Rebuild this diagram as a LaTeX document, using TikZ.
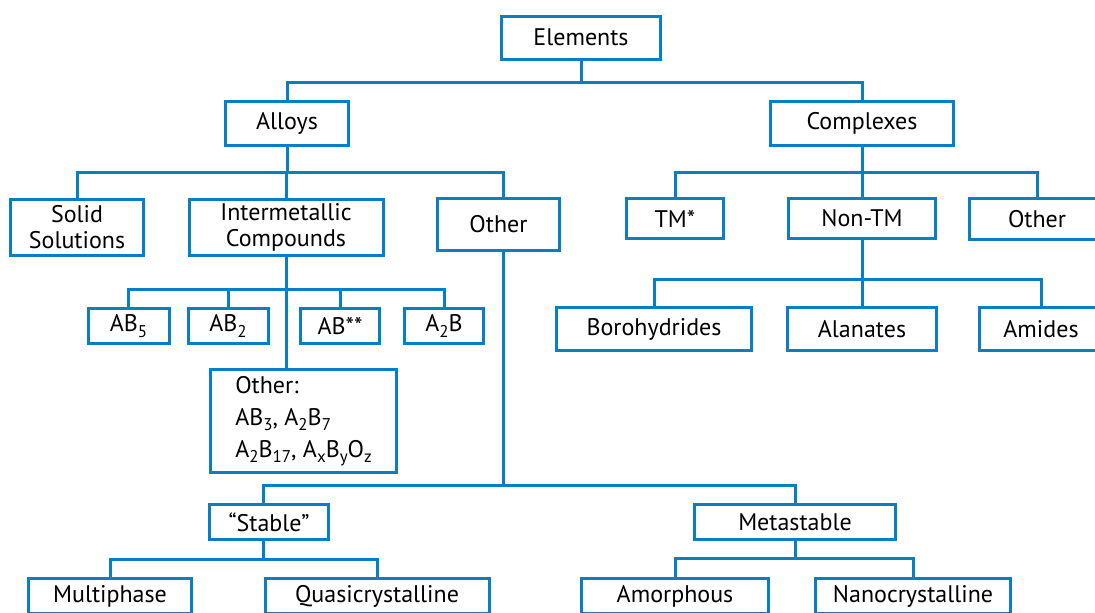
\documentclass[tikz,border=0pt]{standalone}
\usepackage{fontspec}
\setmainfont{PT Sans}
\usepackage{tikz}
\usetikzlibrary{positioning}
\definecolor{treeblue}{RGB}{8,126,196}
\newcommand{\sbs}[1]{\raisebox{-0.45ex}{\fontsize{8.5}{8.5}\selectfont #1}}

\begin{document}
\begin{tikzpicture}[x=0.5pt, y=-0.5pt, font=\fontsize{12}{13}\selectfont,
  bx/.style={draw=treeblue, line width=1.5pt, fill=white, align=center, inner sep=0pt},
  ln/.style={draw=treeblue, line width=1.5pt}]
\clip (0,0) rectangle (1095,612);
% top levels
\node[bx, minimum width=79.5pt, minimum height=21.5pt] (elem) at (581,37.5) {Elements};
\node[bx, minimum width=61.5pt, minimum height=22pt] (alloy) at (287,123) {Alloys};
\node[bx, minimum width=91.5pt, minimum height=22pt] (cplx) at (862,123) {Complexes};
% alloys
\node[bx, minimum width=66.5pt, minimum height=28pt] (solid) at (77,227) {Solid\\Solutions};
\node[bx, minimum width=97pt, minimum height=28pt] (inter) at (286,227) {Intermetallic\\Compounds};
\node[bx, minimum width=61pt, minimum height=26pt] (othA) at (498.5,224.5) {Other};
\node[bx, minimum width=40.5pt, minimum height=17.5pt] (ab5) at (128.5,326) {AB\sbs{5}};
\node[bx, minimum width=40pt, minimum height=17.5pt] (ab2) at (228,326) {AB\sbs{2}};
\node[bx, minimum width=39.5pt, minimum height=17.5pt] (abss) at (340,326) {AB**};
\node[bx, minimum width=39.5pt, minimum height=17.5pt] (a2b) at (444,326) {A\sbs{2}B};
\node[bx, minimum width=93pt, minimum height=51.5pt, align=left,
      font=\fontsize{12}{16}\selectfont] (othI) at (303.5,421)
  {Other:\\AB\sbs{3}, A\sbs{2}B\sbs{7}\\A\sbs{2}B\sbs{17}, A\sbs{x}B\sbs{y}O\sbs{z}};
% complexes
\node[bx, minimum width=48.5pt, minimum height=20pt] (tm) at (675,218.5) {TM*};
\node[bx, minimum width=73.5pt, minimum height=20pt] (nontm) at (862,218.5) {Non-TM};
\node[bx, minimum width=67.5pt, minimum height=20.5pt] (othC) at (1037,219) {Other};
\node[bx, minimum width=97.5pt, minimum height=21.5pt] (boro) at (654,329) {Borohydrides};
\node[bx, minimum width=74.5pt, minimum height=21.5pt] (alan) at (862,329) {Alanates};
\node[bx, minimum width=61.5pt, minimum height=21.5pt] (amid) at (1041,329) {Amides};
% other alloys
\node[bx, minimum width=59.5pt, minimum height=17.5pt] (stab) at (269,522) {“Stable”};
\node[bx, minimum width=100.5pt, minimum height=17.5pt] (meta) at (795,522) {Metastable};
\node[bx, minimum width=81.5pt, minimum height=17.5pt] (multi) at (110,596) {Multiphase};
\node[bx, minimum width=112pt, minimum height=17.5pt] (quasi) at (377,596) {Quasicrystalline};
\node[bx, minimum width=93.5pt, minimum height=17.5pt] (amor) at (675,596) {Amorphous};
\node[bx, minimum width=97.5pt, minimum height=17.5pt] (nano) at (913,596) {Nanocrystalline};
% connectors
\draw[ln] (elem.south) -- ++(0,21.5) -| (alloy.north);
\draw[ln] (elem.south) -- ++(0,21.5) -| (cplx.north);
\draw[ln] (alloy.south) -- ++(0,25.5) -| (solid.north);
\draw[ln] (alloy.south) -- ++(0,25.5) -| (inter.north);
\draw[ln] (alloy.south) -- ++(0,25.5) -| ([xshift=2.5pt]othA.north);
\draw[ln] (cplx.south) -- ++(0,25.5) -| (tm.north);
\draw[ln] (cplx.south) -- ++(0,25.5) -| (nontm.north);
\draw[ln] (cplx.south) -- ++(0,25.5) -| (othC.north);
\draw[ln] (inter.south) -- ++(0,32.5) -| (ab5.north);
\draw[ln] (inter.south) -- ++(0,32.5) -| (ab2.north);
\draw[ln] (inter.south) -- ++(0,32.5) -| (abss.north);
\draw[ln] (inter.south) -- ++(0,32.5) -| (a2b.north);
\draw[ln] (inter.south) -- (inter.south |- othI.north);
\draw[ln] (nontm.south) -- ++(0,39.5) -| (boro.north);
\draw[ln] (nontm.south) -- ++(0,39.5) -| (alan.north);
\draw[ln] (nontm.south) -- ++(0,39.5) -| (amid.north);
\draw[ln] ([xshift=2.5pt]othA.south) -- ++(0,233.5) -| ([xshift=-3pt]stab.north);
\draw[ln] ([xshift=2.5pt]othA.south) -- ++(0,233.5) -| (meta.north);
\draw[ln] ([xshift=-3pt]stab.south) -- ++(0,18.5) -| (multi.north);
\draw[ln] ([xshift=-3pt]stab.south) -- ++(0,18.5) -| (quasi.north);
\draw[ln] (meta.south) -- ++(0,17.5) -| (amor.north);
\draw[ln] (meta.south) -- ++(0,17.5) -| (nano.north);
\end{tikzpicture}
\end{document}
